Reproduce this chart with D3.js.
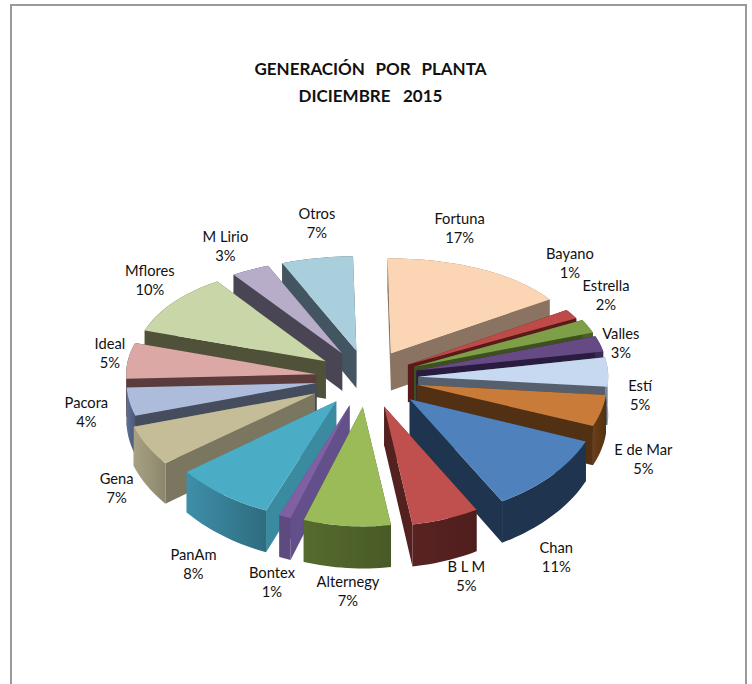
<!DOCTYPE html>
<html><head><meta charset="utf-8">
<script src="https://cdn.jsdelivr.net/npm/d3@7/dist/d3.min.js"></script>
<style>html,body{margin:0;padding:0;background:#fff}svg{display:block}text{font-family:Lato,"Open Sans",sans-serif;fill:#111}</style>
</head><body><div id="chart"></div>
<script>
const plants = ["Fortuna","Bayano","Estrella","Valles","Estí","E de Mar","Chan","B L M","Alternegy","Bontex","PanAm","Gena","Pacora","Ideal","Mflores","M Lirio","Otros"];
const shares = [16.0,1.6,2.2,2.5,4.5,4.6,10.8,5.7,7.4,1.0,8.4,5.7,4.2,5.6,10.4,3.3,6.1];
const percentLabels = ["17%","1%","2%","3%","5%","5%","11%","5%","7%","1%","8%","7%","4%","5%","10%","3%","7%"];
const titleLines = ["GENERACIÓN  POR  PLANTA","DICIEMBRE   2015"];
const topColors = ["#FCD5B5","#BE4B48","#7E9F47","#664A85","#C6D9F1","#C97C3A","#4F81BD","#C0504D","#9BBB59","#7F60A3","#4BACC6","#C4BD97","#ADBCDB","#DBA8A6","#C8D6A8","#B8ADC9","#A9CFDD"];
const sideColors = ["#8A7461","#5A1A1A","#3E5020","#2A1C3E","#555F6E","#523014","#1F344F","#522120","#4A5A28","#63508A","#3A8AA0","#7A7660","#444C5E","#5A3C3C","#4F5239","#4A4554","#425560"];
const rimLight = ["#8A7461","#5A1A1A","#4A6026","#3A2A55","#7C8796","#6B3F18","#1F344F","#5A2322","#566B2F","#5F4A80","#3E8FA8","#A8A283","#5E7096","#5A3C3C","#4F5239","#4A4554","#425560"];
const rimDark = ["#8A7461","#5A1A1A","#4A6026","#3A2A55","#7C8796","#52300F","#1F344F","#4E1E1D","#485A26","#5F4A80","#2F6C80","#8B866C","#4A5878","#5A3C3C","#4F5239","#4A4554","#425560"];
const labelNudge = [[-20,-40],[-5,-49],[18,-30],[21,0],[32,24],[42,49],[8.5,85],[21.5,59],[1,66],[-13,66],[-29,71],[-37,45],[-43,11],[-18,-6],[-23,-22],[-25,-23],[0,-34]];
const explodeBySlice = [0.27,0.25,0.27,0.27,0.27,0.27,0.30,0.28,0.27,0.27,0.27,0.31,0.27,0.27,0.27,0.27,0.27];

const W=752,H=684,cx=367,cy=378,A=190,B=105.6,persp=0.0763,depth=38,explode=0.27;
const svg=d3.select("#chart").append("svg").attr("width",W).attr("height",H);
const defs=svg.append("defs");
svg.append("path").attr("d",`M11,${H} V5 H746 V${H}`).attr("fill","none").attr("stroke","#999").attr("stroke-width",2);

const title=svg.append("g").attr("text-anchor","middle").attr("font-weight",700).attr("font-size",17);
titleLines.forEach((t,i)=>title.append("text").attr("xml:space","preserve").style("white-space","pre").style("word-spacing",i===0?"1.2px":"0").attr("x",370.5).attr("y",75+i*27).text(t));

const start=-1*Math.PI/180;
const arcs=d3.pie().sort(null).startAngle(start).endAngle(start+2*Math.PI)(shares);
const project=(u,v,drop)=>{const s=1/(1-persp*v);return [cx+u*A,cy+v*s*B+(drop?depth*s:0)];};
const line=d3.line();
const slices=arcs.map((d,i)=>{
  const m=(d.startAngle+d.endAngle)/2;
  const e=explodeBySlice[i];
  const ou=e*Math.sin(m),ov=-e*Math.cos(m);
  const n=Math.max(3,Math.ceil((d.endAngle-d.startAngle)/0.03));
  const rim=d3.range(n+1).map(k=>{const a=d.startAngle+(d.endAngle-d.startAngle)*k/n;return [ou+Math.sin(a),ov-Math.cos(a)];});
  return {i,m,ou,ov,rim};
});
const order=slices.slice().sort((a,b)=>a.ov-b.ov);
const g=svg.append("g");
order.forEach(sl=>{
  const {i,ou,ov,rim}=sl;
  const top=p=>project(p[0],p[1],false),bot=p=>project(p[0],p[1],true);
  const gid="w"+i;
  const lg=defs.append("linearGradient").attr("id",gid);
  lg.append("stop").attr("offset","0").attr("stop-color",rimLight[i]);
  lg.append("stop").attr("offset","1").attr("stop-color",rimDark[i]);
  const apex=[ou,ov];
  [rim[0],rim[rim.length-1]].forEach(e=>{
    g.append("path").attr("d",line([top(apex),top(e),bot(e),bot(apex)])+"Z").attr("fill",sideColors[i]);
  });
  g.append("path").attr("d",line(rim.map(top).concat(rim.slice().reverse().map(bot)))+"Z").attr("fill",`url(#${gid})`);
  g.append("path").attr("d",line([top(apex)].concat(rim.map(top)))+"Z").attr("fill",topColors[i]);
});
const labels=svg.append("g").attr("text-anchor","middle").attr("font-size",14.7);
slices.forEach(sl=>{
  const w=1+explode,u=w*Math.sin(sl.m),v=-w*Math.cos(sl.m);
  const p=project(u,v,false);
  const x=p[0]+labelNudge[sl.i][0],y=p[1]+labelNudge[sl.i][1];
  const t=labels.append("text");
  t.append("tspan").attr("x",x).attr("y",y-5).text(plants[sl.i]);
  t.append("tspan").attr("x",x).attr("y",y+14).text(percentLabels[sl.i]);
});
</script></body></html>
